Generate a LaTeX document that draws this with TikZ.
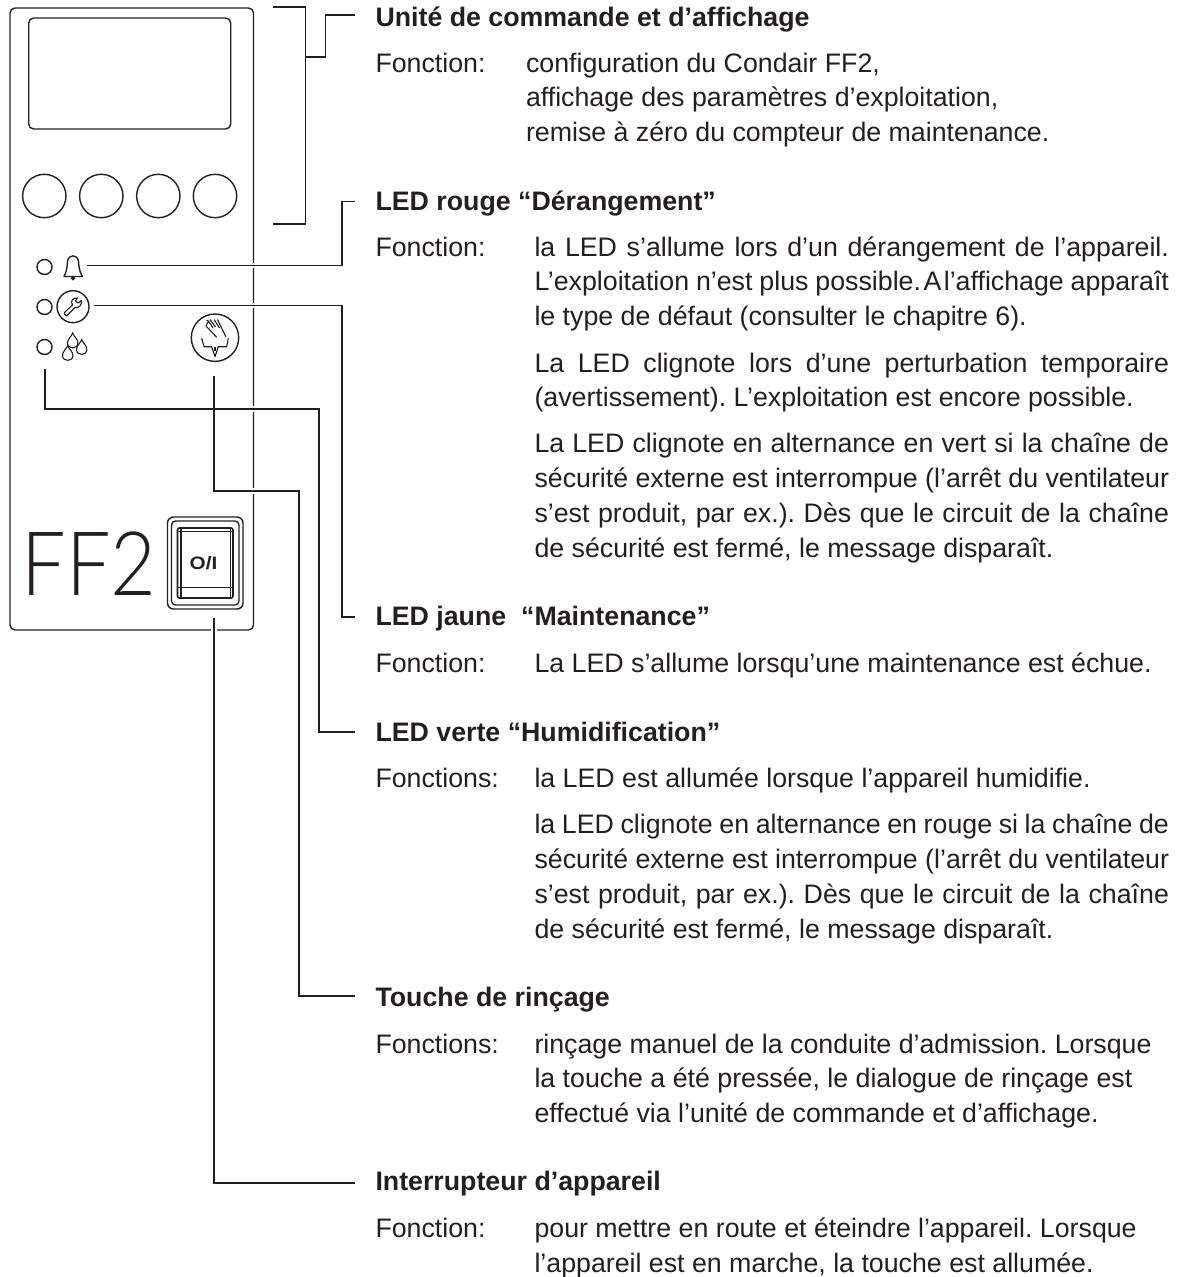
\documentclass[tikz,border=0pt]{standalone}
\usepackage{fontspec}
\setmainfont{Liberation Sans}
\newfontfamily\fflight{Lato Light}
\definecolor{ink}{RGB}{35,31,32}
\newcommand{\jl}[1]{\hbox to 634.5pt{#1}}
\tikzset{
  txt/.style={anchor=base west,inner sep=0pt,outer sep=0pt,text=ink,font=\fontsize{26.75}{30}\selectfont\frenchspacing},
  ttl/.style={txt,font=\fontsize{26.75}{30}\selectfont\bfseries\frenchspacing},
  shp/.style={draw=ink,line width=1.4pt},
  thinl/.style={draw=ink,line width=1.1pt},
  conn/.style={draw=ink,line width=1.2pt},
  halo/.style={draw=white,line width=5.5pt},
}
\begin{document}
\begin{tikzpicture}[x=1pt,y=-1pt]
\useasboundingbox (0,0) rectangle (1186,1277);
% panel
\draw[shp,rounded corners=5pt] (10,8) rectangle (253.5,630);
\draw[shp,rounded corners=5pt] (28.7,18) rectangle (230.7,129);
\foreach \n/\x in {a/44.3,b/101.3,c/158.3,d/215}{\node[shp,circle,minimum size=43.4pt,inner sep=0pt] (key\n) at (\x,196) {};}
\node[shp,circle,minimum size=15pt,inner sep=0pt] (led1) at (44.5,267) {};
\node[shp,circle,minimum size=15pt,inner sep=0pt] (led2) at (44.5,307) {};
\node[shp,circle,minimum size=15pt,inner sep=0pt] (led3) at (44.5,347) {};
% bell
\coordinate (bell) at (87,265.7);
\draw[shp,line join=round] (64,276.5) .. controls (67.5,270) and (67,265) .. (67.5,261.5) .. controls (68,254) and (78,254) .. (78.5,261.5) .. controls (79,265) and (78.5,270) .. (82.5,276.5) -- cycle;
\draw[shp] (73,278.3) circle (1.4pt);
% wrench
\node[shp,circle,minimum size=32pt,inner sep=0pt] (wr) at (73,306.7) {};
\draw[thinl,line join=round] (64.5,314) -- (66.5,316) -- (75,307.5) .. controls (79,308.5) and (82,305) .. (81.5,300.5) -- (78,303) -- (75.5,301) -- (77.5,298) .. controls (73,297.5) and (70,301) .. (72.5,305) -- (64.5,312.5) -- cycle;
% drops
\foreach \x/\y in {67.7/345.5,81.7/339.5,72.7/333}{\draw[thinl,fill=white] (\x,\y) .. controls (\x+1.5,\y+4) and (\x+5.2,\y+6) .. (\x+5.2,\y+10) .. controls (\x+5.2,\y+16.5) and (\x-5.2,\y+16.5) .. (\x-5.2,\y+10) .. controls (\x-5.2,\y+6) and (\x-1.5,\y+4) .. (\x,\y) -- cycle;}
% hand
\node[shp,circle,minimum size=47.4pt,inner sep=0pt] (hand) at (215,337.7) {};
\draw[thinl,line join=round] (206,326) -- (216.7,337.3) (206,326) -- (208.5,321) -- (206.5,320) (208.5,321) -- (213,328) (210,319.5) -- (215.5,327) (214,319.5) -- (219.5,328) (217.5,319.5) -- (226,337);
\draw[thinl,line join=round] (201.7,338.3) -- (204,346.7) -- (211.7,346.7) -- (215,356.7) -- (218.3,346.7) -- (226.7,346.7) -- (228.3,338.3);
\draw[thinl] (215,346.7) -- (215,351);
% FF2
\node[txt,font=\fontsize{89}{89}\fflight,xscale=.887] (ff) at (21.5,595) {FF2};
% switch
\draw[shp,rounded corners=6pt] (167.5,517) rectangle (243,609);
\draw[shp,rounded corners=4pt] (171.5,521) rectangle (239,605);
\draw[shp,line width=1.6pt,rounded corners=2pt] (177.5,528) rectangle (233,598);
\draw[thinl] (181,528) -- (181,598) (230.7,528) -- (230.7,598) (177.5,531.7) -- (233,531.7) (177.5,587.7) -- (233,587.7);
\node[inner sep=0pt,text=ink,xscale=1.15,font=\fontsize{18}{18}\selectfont\bfseries] (sw) at (203.5,563.5) {O/I};
% connector ends
\coordinate (t1) at (355,15);
\coordinate (t2) at (355,201.7);
\coordinate (t3) at (355,617);
\coordinate (t4) at (355,732);
\coordinate (t5) at (355,996);
\coordinate (t6) at (355,1183);
\coordinate (wrs) at (94.3,305.7);
\coordinate (ledv) at (45,369);
\coordinate (hnd) at (214,376);
\coordinate (swb) at (214,618);
\coordinate (brA) at (273,7);
\coordinate (brB) at (273,224);
\coordinate (brM) at (305.7,57);
% bracket
\draw[conn] (brA) -- (305.7,7) -- (305.7,224) -- (brB);
\draw[conn] (brM) -- (325.7,57) -- (325.7,15) -- (t1);
% halos
\draw[halo] (250,265.7) -- (257,265.7) (250,305.7) -- (257,305.7) (250,409) -- (257,409) (250,491) -- (257,491) (214,627) -- (214,633);
% connectors
\draw[conn] (bell) -- (342,265.7) -- (342,201.7) -- (t2);
\draw[conn] (wrs) -- (342,305.7) -- (342,617) -- (t3);
\draw[conn] (ledv) -- (45,409) -- (319,409) -- (319,732) -- (t4);
\draw[conn] (hnd) -- (214,491) -- (299,491) -- (299,996) -- (t5);
\draw[conn] (swb) -- (214,1183) -- (t6);
% text
\node[ttl] (h1) at (375.5,26) {Unité de commande et d’affichage};
\node[txt] (f1) at (375.5,72) {Fonction:};
\node[txt] (a1) at (526,72) {configuration du Condair FF2,};
\node[txt] (a2) at (526,106) {affichage des paramètres d’exploitation,};
\node[txt] (a3) at (526,141) {remise à zéro du compteur de maintenance.};
\node[ttl] (h2) at (375.5,210) {LED rouge “Dérangement”};
\node[txt] (f2) at (375.5,256) {Fonction:};
\node[txt] (b1) at (534.5,256) {\jl{la LED s’allume lors d’un dérangement de l’appareil.}};
\node[txt] (b2) at (534.5,290.5) {\jl{L’exploitation n’est plus possible.\hskip 2.5pt A\hskip 2.5pt l’affichage apparaît}};
\node[txt] (b3) at (534.5,325.5) {le type de défaut (consulter le chapitre 6).};
\node[txt] (b4) at (534.5,372) {\jl{La LED clignote lors d’une perturbation temporaire}};
\node[txt] (b5) at (534.5,406) {(avertissement). L’exploitation est encore possible.};
\node[txt] (b6) at (534.5,452) {\jl{La LED clignote en alternance en vert si la chaîne de}};
\node[txt] (b7) at (534.5,487) {\jl{sécurité externe est interrompue (l’arrêt du ventilateur}};
\node[txt] (b8) at (534.5,522) {\jl{s’est produit, par ex.). Dès que le circuit de la chaîne}};
\node[txt] (b9) at (534.5,557) {de sécurité est fermé, le message disparaît.};
\node[ttl] (h3) at (375.5,625) {LED jaune\ \ “Maintenance”};
\node[txt] (f3) at (375.5,672) {Fonction:};
\node[txt] (c1) at (534.5,672) {La LED s’allume lorsqu’une maintenance est échue.};
\node[ttl] (h4) at (375.5,741) {LED verte “Humidification”};
\node[txt] (f4) at (375.5,787) {Fonctions:};
\node[txt] (d1) at (534.5,787) {la LED est allumée lorsque l’appareil humidifie.};
\node[txt] (d2) at (534.5,833) {\jl{la LED clignote en alternance en rouge si la chaîne de}};
\node[txt] (d3) at (534.5,868) {\jl{sécurité externe est interrompue (l’arrêt du ventilateur}};
\node[txt] (d4) at (534.5,903) {\jl{s’est produit, par ex.). Dès que le circuit de la chaîne}};
\node[txt] (d5) at (534.5,938) {de sécurité est fermé, le message disparaît.};
\node[ttl] (h5) at (375.5,1006) {Touche de rinçage};
\node[txt] (f5) at (375.5,1053) {Fonctions:};
\node[txt] (e1) at (534.5,1053) {rinçage manuel de la conduite d’admission. Lorsque};
\node[txt] (e2) at (534.5,1087.5) {la touche a été pressée, le dialogue de rinçage est};
\node[txt] (e3) at (534.5,1122.5) {effectué via l’unité de commande et d’affichage.};
\node[ttl] (h6) at (375.5,1190) {Interrupteur d’appareil};
\node[txt] (f6) at (375.5,1237) {Fonction:};
\node[txt] (g1) at (534.5,1237) {pour mettre en route et éteindre l’appareil. Lorsque};
\node[txt] (g2) at (534.5,1272) {l’appareil est en marche, la touche est allumée.};
\end{tikzpicture}
\end{document}
